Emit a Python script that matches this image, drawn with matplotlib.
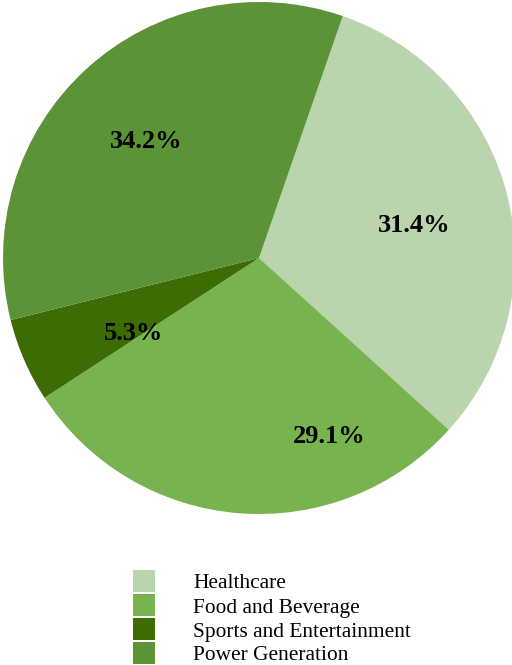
import matplotlib
matplotlib.use("Agg")
import matplotlib.pyplot as plt
from matplotlib.patches import Rectangle

categories = ["Healthcare", "Food and Beverage", "Sports and Entertainment", "Power Generation"]
values = [31.4, 29.1, 5.3, 34.2]
colors = ["#bad4ae", "#77b450", "#3d6b04", "#5a9436"]
label_pos = [(0.605, 0.125), (0.273, -0.699), (-0.492, -0.293), (-0.441, 0.457)]

W, H = 512, 665
fig = plt.figure(figsize=(W / 100, H / 100), dpi=100)
cx, cy, r = 259, 258, 256
ax = fig.add_axes([(cx - r) / W, (H - cy - r) / H, 2 * r / W, 2 * r / H])
wedges, texts, autotexts = ax.pie(values, colors=colors, startangle=70.9, counterclock=False,
                                  radius=1, autopct="%.1f%%",
                                  textprops=dict(family="Liberation Serif", fontsize=19, fontweight="bold", color="black"))
for t, p in zip(autotexts, label_pos):
    t.set_position(p)
    t.set_ha("center")
    t.set_va("center")
ax.set_xlim(-1, 1)
ax.set_ylim(-1, 1)
ax.set_aspect("equal")
ax.axis("off")
for w in wedges:
    w.set_clip_on(False)

# legend (figure pixel layout)
sq_x, sq_w, top0, pitch, sq_h, txt_x = 133, 22, 570, 24, 22, 193
for i, (name, c) in enumerate(zip(categories, colors)):
    top = top0 + i * pitch
    fig.patches.append(Rectangle((sq_x / W, 1 - (top + sq_h) / H), sq_w / W, sq_h / H,
                                 transform=fig.transFigure, facecolor=c, edgecolor="none"))
    fig.text(txt_x / W, 1 - (top + sq_h / 2 + 0.5) / H, name, ha="left", va="center_baseline",
             family="Liberation Serif", fontsize=15.4)
fig.savefig("out.png", dpi=100)
